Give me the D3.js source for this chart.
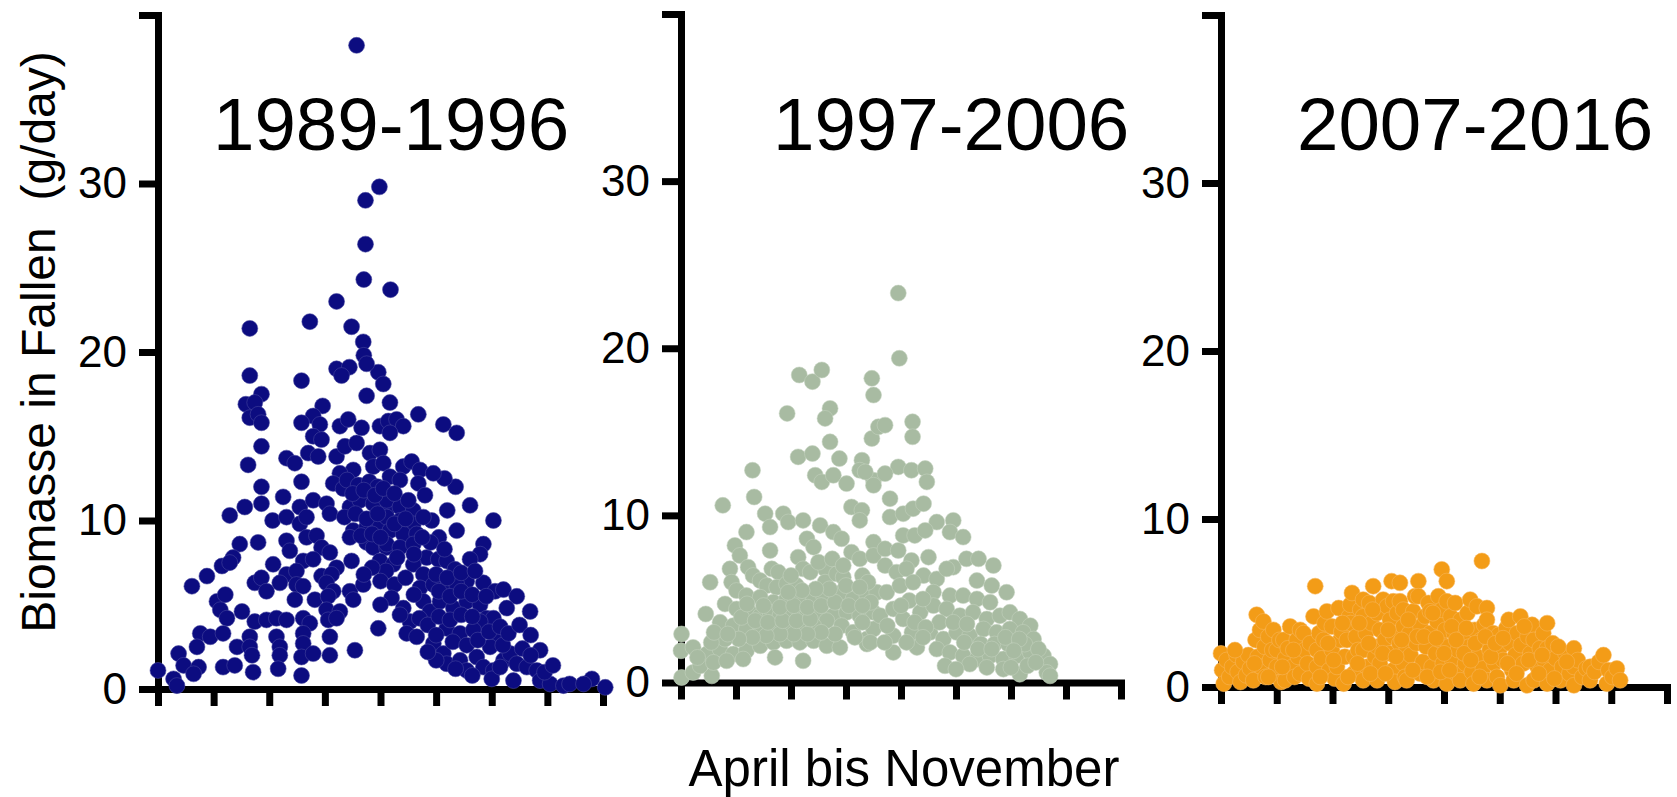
<!DOCTYPE html>
<html><head><meta charset="utf-8">
<script src="https://cdn.jsdelivr.net/npm/d3@7"></script>
<style>
html,body{margin:0;padding:0;background:#fff;}
svg{display:block;font-family:"Liberation Sans",Arial,Helvetica,sans-serif;}
</style></head><body>
<svg id="chart" width="1677" height="797"></svg>
<script>
const periods = ["1989-1996","1997-2006","2007-2016"];
const colors = ["#0c0c80","#a8bba2","#f39c17"];
const strokes = ["#4a4aa0","#c4d2bf","#f7b85e"];
const yTicks = [0,10,20,30,40];
const yTickLabels = ["0","10","20","30",""];
const xTicks = [0,1,2,3,4,5,6,7,8];
const yLabel = "Biomasse in Fallen  (g/day)";
const xLabel = "April bis November";

// [month since 1 April, g/day]
const data1989 = [
[3.57,38.2],[3.98,29.8],[3.73,29.0],[3.73,26.4],[3.70,24.3],[4.18,23.7],[3.21,23.0],[2.73,21.8],[1.65,21.4],[3.48,21.5],[3.69,20.6],[3.70,19.8],[3.21,19.0],[3.44,19.1],[3.96,18.8],[1.65,18.6],[2.58,18.3],
[1.86,17.5],[1.58,16.9],[1.74,17.0],[1.65,16.1],[1.80,16.3],[1.86,15.8],[3.30,18.6],[3.75,19.3],[4.05,18.1],[3.75,17.4],[2.96,16.8],[2.79,16.2],[2.91,15.7],[2.58,15.8],[3.27,15.6],[3.42,16.0],[3.66,15.5],[3.99,15.6],[4.14,15.9],[2.79,15.0],[2.94,14.8],[1.86,14.4],[1.62,13.3],[2.31,13.7],[2.46,13.4],[2.70,14.0],[2.88,13.8],[3.21,13.8],[3.36,14.4],[3.57,14.6],[3.81,14.0],[3.99,14.2],[3.51,13.0],[3.27,12.8],[3.87,13.2],[4.05,13.4],[2.58,12.3],[1.86,12.0],[3.15,12.2],[3.33,11.9],[2.25,11.4],[1.86,11.0],[1.56,10.8],[1.29,10.3],[2.55,10.8],[2.79,11.2],[3.03,11.0],[3.09,10.4],[3.45,10.8],[3.63,11.2],[3.87,11.0],[4.11,10.6],[2.06,10.0],[2.31,10.2],[2.55,9.8],[2.67,10.2],[3.51,9.4],[3.75,9.6],[3.99,9.8],[2.31,8.8],[2.67,9.0],[2.85,9.1],[1.47,8.6],[1.80,8.7],[3.75,8.7],[3.87,8.4],[4.11,8.4],[2.37,8.2],[2.94,8.4],[3.09,8.1],[1.35,7.8],[1.15,7.3],[1.29,7.5],[2.07,7.4],[2.61,7.6],[2.79,7.7],[3.48,7.6],[3.21,7.2],[3.99,7.6],[0.88,6.7],[0.61,6.1],[2.31,6.8],[2.49,7.0],[2.94,6.7],[3.12,6.8],[1.74,6.3],[1.86,6.6],[2.19,6.3],[2.49,6.2],[2.61,6.1],[3.03,6.3],[3.15,5.8],[3.45,5.8],[3.69,6.2],[1.95,5.8],[1.06,5.2],[1.21,5.6],[2.46,5.3],[2.82,5.3],[3.06,5.5],[3.51,5.3],[1.12,4.7],[1.24,4.2],[1.51,4.6],[3.03,4.7],[3.27,4.6],[1.74,4.0],[1.95,4.1],[2.13,4.2],[2.31,4.1],[2.61,4.2],[2.73,3.9],[3.06,4.1],[3.21,4.2],[3.96,3.6],[0.76,3.3],[0.94,3.1],[1.17,3.3],[1.42,2.5],[1.65,3.1],[1.65,2.5],[2.13,3.1],[2.19,2.5],[2.61,3.3],[2.61,2.7],[3.09,3.1],[3.54,2.3],[0.70,2.5],[0.37,2.1],[0.46,1.4],[0.73,1.3],[0.64,0.9],[1.17,1.3],[1.38,1.4],[1.69,2.0],[1.71,1.0],[2.19,2.0],[2.16,1.2],[2.58,1.9],[2.79,2.1],[2.58,0.8],[3.09,2.0],[0.00,1.1],[0.28,0.6],[0.34,0.2],
[4.17,17.0],[4.68,16.3],[4.29,16.0],[4.41,15.6],[4.17,15.2],[5.13,15.7],[5.37,15.2],[4.41,13.2],[4.56,13.5],[4.71,13.0],[4.17,12.6],[4.35,12.4],[4.68,12.2],[4.80,11.5],[5.61,10.9],[6.03,10.0],[5.37,9.4],[4.92,10.0],[4.11,11.2],[4.35,10.8],[4.59,10.6],[4.11,10.2],[4.35,10.0],[4.59,9.8],[4.77,10.2],[4.17,9.4],[4.41,9.2],[4.65,9.2],[4.11,8.6],[4.35,8.4],[4.59,8.6],[5.85,8.6],[5.79,8.0],[5.61,7.7],[4.83,7.8],[5.04,7.7],[5.19,7.6],[5.34,7.1],[4.23,7.4],[4.59,7.4],[4.77,6.8],[5.55,6.4],[5.85,6.3],[6.06,5.8],[6.21,5.9],[6.45,5.5],[4.71,6.0],[4.95,6.2],[5.19,6.0],[5.37,6.2],[6.27,4.8],[6.69,4.6],[4.41,4.8],[4.53,4.0],[4.77,5.2],[4.89,4.6],[5.07,5.2],[5.31,4.8],[5.55,5.2],[5.79,5.0],[5.91,4.2],[6.03,4.2],[5.79,4.0],[4.47,3.3],[4.65,3.1],[4.95,2.7],[5.19,3.6],[5.43,3.3],[5.67,3.5],[6.09,3.1],[5.97,2.5],[6.87,2.3],[5.13,2.1],[5.19,1.5],[5.43,1.7],[5.55,1.1],[5.73,1.9],[5.85,1.3],[6.03,1.1],[6.21,1.7],[6.33,2.1],[6.45,1.5],[6.39,0.5],[6.63,1.3],[6.81,1.1],[6.87,0.5],[7.05,0.3],[7.29,0.2],[7.80,0.6],[8.04,0.1],
[3.40,12.4],[3.60,12.1],[3.80,12.3],[3.95,12.0],[3.50,11.6],[3.70,11.8],[3.90,11.5],[4.05,11.9],[3.35,10.2],[3.55,10.4],[3.75,10.1],[3.95,10.4],[3.45,9.0],[3.65,9.1],[3.85,9.2],[4.00,9.0],[4.25,9.8],[4.45,10.1],[4.25,11.6],[4.50,11.2],[4.60,8.0],[4.30,7.8],[4.10,7.0],[3.85,7.2],[3.70,6.8],[4.00,6.4],[4.25,6.2],[4.45,6.6],[4.60,5.6],[4.20,5.4],[4.00,5.0],[4.35,4.4],[4.70,4.2],[4.85,3.8],[5.05,4.3],[5.25,4.1],[5.45,4.4],[5.65,4.3],[5.00,3.2],[5.30,2.8],[5.55,2.6],[5.75,2.9],[5.95,3.4],[6.20,2.6],[6.15,3.7],[5.05,5.8],[5.25,5.5],[5.45,5.8],[5.65,5.6],[5.90,5.5],[5.00,6.8],[5.20,6.6],[5.45,6.9],[5.70,7.0],[5.05,9.0],[4.90,8.7],[5.15,8.3],[4.75,9.0],[5.20,10.6],[5.35,12.0],[5.15,12.5],[4.95,12.8],[5.00,1.7],[4.85,2.2],[5.35,1.2],[5.65,0.8],[6.00,0.6],[6.15,1.3],[6.55,2.4],[6.30,3.3],[6.50,3.8],[6.70,3.2],[6.70,2.0],[6.95,1.0],[7.10,1.4],[7.40,0.3],[7.65,0.3]
];

const data1997 = [
[2.15,18.4],[2.39,18.0],[2.56,18.7],[3.47,18.2],[3.50,17.2],[1.93,16.1],[2.71,16.4],[2.62,15.8],[2.71,14.4],[3.47,14.6],[3.59,15.3],[2.13,13.5],[2.39,13.7],[2.88,13.4],[3.29,13.3],[3.25,12.7],[2.44,12.4],[2.56,12.0],[2.77,12.4],[3.01,11.9],[3.50,12.1],[3.35,12.6],[1.30,12.7],[1.33,11.1],[0.76,10.6],[3.10,10.5],[3.29,10.3],[3.25,9.7],[1.53,10.1],[1.62,9.3],[1.86,10.1],[1.95,9.6],[2.22,9.7],[2.53,9.4],[2.77,9.0],[2.92,8.6],[1.19,9.0],[2.29,8.6],[2.41,8.1],[0.98,8.2],[1.07,7.6],[1.62,7.9],[3.10,7.8],[3.25,7.4],[3.50,8.4],[3.50,7.6],[2.13,7.5],[2.22,6.8],[0.89,6.8],[0.92,6.0],[1.22,6.9],[1.31,6.4],[1.65,6.8],[1.77,6.6],[0.53,6.0],[2.62,6.8],[2.62,6.0],[2.83,6.5],[2.95,6.3],[1.44,6.1],[1.56,5.8],[1.74,5.7],[1.92,5.9],[2.10,5.8],[1.01,5.5],[1.19,5.2],[2.92,5.4],[3.13,5.0],[3.38,5.2],[3.56,5.4],[1.44,5.1],[1.68,4.8],[1.92,5.0],[2.16,5.2],[2.41,5.0],[2.59,5.2],[0.80,4.7],[0.45,4.1],[1.01,4.4],[1.25,4.2],[1.44,4.0],[1.62,4.2],[1.80,4.0],[2.04,4.2],[2.29,4.0],[2.53,4.2],[2.77,4.0],[3.01,4.2],[3.25,4.0],[3.50,4.2],[2.65,3.7],[2.92,3.4],[3.13,3.0],[3.38,2.6],[3.50,3.2],[0.71,3.6],[0.95,3.4],[1.19,3.2],[1.44,3.4],[1.68,3.2],[1.92,3.4],[2.16,3.2],[2.41,3.4],[0.01,2.9],[0.00,1.9],[0.22,2.1],[0.47,1.7],[0.71,2.0],[0.95,1.7],[1.19,1.9],[1.44,2.2],[1.68,2.4],[1.92,2.5],[2.16,2.4],[2.41,2.5],[2.65,2.2],[2.89,2.1],[3.38,2.3],[3.16,2.7],[1.71,1.5],[2.22,1.3],[0.01,0.3],[0.22,0.6],[0.56,0.4],[0.35,1.0],[0.59,1.2],[0.83,1.3],[1.13,1.4],
[3.97,19.4],[3.95,23.3],[3.71,15.4],[4.21,15.6],[4.21,14.7],[3.95,12.9],[4.19,12.7],[4.44,12.8],[4.47,12.0],[3.71,12.5],[3.50,11.8],[3.80,11.0],[3.80,9.9],[4.04,10.1],[4.22,10.4],[4.41,10.7],[4.65,9.6],[4.95,9.7],[4.89,9.0],[5.13,8.7],[3.71,8.0],[3.95,7.9],[4.04,8.8],[4.25,8.8],[4.44,9.1],[4.50,7.5],[4.19,7.3],[4.95,6.9],[5.19,7.4],[5.41,7.4],[5.68,7.0],[3.71,7.0],[3.92,6.6],[4.10,6.8],[4.41,6.4],[4.65,6.2],[4.83,6.8],[5.38,6.1],[5.65,5.8],[5.92,5.4],[3.74,5.4],[3.98,5.8],[4.22,6.0],[4.59,5.4],[4.89,5.2],[5.13,5.2],[5.38,5.0],[5.62,4.8],[3.62,4.0],[3.86,4.4],[4.04,3.8],[4.35,4.2],[4.59,4.6],[4.83,4.4],[5.07,4.0],[5.31,4.2],[5.56,3.8],[5.80,4.0],[5.98,4.2],[6.16,3.8],[6.35,3.4],[3.44,2.4],[3.86,2.8],[3.86,1.8],[4.29,2.1],[4.53,3.0],[4.77,2.6],[5.01,3.0],[5.25,2.8],[5.50,3.2],[5.74,3.0],[5.98,3.2],[6.22,3.0],[6.41,2.6],[4.65,2.0],[4.89,1.8],[5.13,1.6],[5.38,1.4],[5.62,1.6],[5.86,1.4],[6.10,1.6],[6.35,1.8],[6.59,1.6],[6.71,1.1],[6.16,0.5],[6.65,0.6],[6.71,0.4],[5.25,1.1],[5.56,0.9],[5.86,0.8],
[2.00,6.4],[2.35,6.6],[2.50,7.2],[2.75,7.4],[2.95,7.0],[3.30,6.4],[3.40,6.0],[3.45,4.8],[3.30,3.6],[2.80,2.9],[2.55,3.0],[2.30,2.9],[2.05,2.9],[1.80,2.9],[1.55,2.8],[1.30,2.7],[1.05,2.6],[0.80,2.6],[0.55,2.4],[0.30,1.5],[3.70,2.4],[4.20,3.0],[4.80,1.0],[5.00,0.8],[4.15,4.9],[4.40,5.0],[4.70,3.6],[4.95,3.6],[5.20,3.5],[5.45,2.3],[5.70,2.3],[5.95,2.3],[6.25,2.3],[6.50,2.0],[6.00,0.9],[6.30,1.0],
[1.10,3.9],[1.35,3.7],[1.58,3.6],[1.85,3.7],[2.10,3.7],[2.35,3.8],[0.60,3.0],[0.85,2.9],[1.20,4.7],[1.50,4.6],[1.80,4.5],[2.05,4.6],[2.30,4.5],[2.55,4.6],[2.80,4.8],[3.05,4.6],[3.30,4.6],[2.70,5.6],[2.45,5.6],[2.20,5.5],[1.95,5.4],[3.00,5.8],[3.25,5.7],[3.75,3.4],[4.00,4.6],[4.25,3.6],[4.45,3.3],[4.10,2.4],[4.40,2.7],[5.15,2.4],[5.40,2.0],[5.65,2.0],[5.90,2.7],[6.15,2.6],[6.05,1.9],[6.45,1.2]
];

const data2007 = [
[0.00,2.0],[0.02,1.0],[0.05,0.2],[0.10,1.6],[0.15,0.6],[0.20,1.2],[0.28,1.9],[0.30,0.9],[0.35,0.3],[0.40,1.5],[0.45,0.7],[0.49,1.9],[0.52,1.1],
[0.58,0.4],[0.62,2.8],[0.64,4.3],[0.66,1.8],[0.70,3.4],[0.72,1.2],[0.76,3.9],[0.78,2.4],[0.80,0.6],[0.85,3.0],[0.88,1.6],[0.92,2.2],[0.94,3.4],[0.96,0.8],[1.00,2.2],[1.00,1.2],
[1.05,2.8],[1.08,0.3],[1.12,2.8],[1.15,0.4],[1.15,1.7],[1.20,2.3],[1.24,3.6],[1.28,1.2],[1.32,0.6],[1.36,2.8],[1.38,1.8],[1.42,0.8],[1.42,3.4],[1.48,3.2],[1.50,2.2],[1.55,1.4],[1.58,0.5],[1.60,2.6],
[1.66,4.2],[1.69,6.0],[1.72,2.2],[1.72,1.2],[1.72,0.2],[1.76,3.2],[1.80,1.7],[1.84,2.8],[1.86,3.8],[1.90,4.5],[1.94,1.0],[1.99,3.6],[1.99,2.2],[2.04,0.5],[2.08,1.2],[2.11,4.7],[2.14,2.8],[2.16,3.3],[2.20,0.2],[2.22,1.8],[2.26,2.8],[2.30,4.2],[2.32,4.9],[2.32,3.8],[2.35,5.6],[2.38,1.8],[2.38,0.8],[2.42,3.0],
[2.46,2.2],[2.50,4.6],[2.55,5.2],[2.55,4.2],[2.55,2.2],[2.55,0.4],[2.60,3.2],[2.62,1.2],[2.66,5.0],[2.70,3.8],[2.73,6.0],[2.76,1.8],[2.80,4.4],[2.80,2.4],[2.80,0.4],[2.85,3.4],[2.85,1.4],[2.91,5.2],[2.94,2.8],[2.98,4.8],[3.03,4.0],[3.03,2.0],[3.06,6.3],[3.09,5.1],[3.09,3.0],[3.09,1.0],[3.12,0.3],[3.16,4.4],[3.20,2.6],[3.21,6.2],[3.21,5.1],[3.27,4.6],[3.27,3.6],[3.27,1.4],[3.30,0.6],[3.33,2.4],[3.33,0.4],
[3.38,3.2],[3.40,1.9],[3.45,4.5],[3.48,5.4],[3.50,2.6],[3.54,6.3],[3.54,5.4],[3.57,0.8],[3.58,3.6],[3.62,1.5],[3.66,4.2],[3.68,2.4],[3.72,5.0],[3.75,4.5],[3.75,3.2],[3.78,1.2],[3.81,0.4],[3.85,2.0],[3.88,3.9],[3.90,5.4],[3.92,2.8],[3.96,7.0],[3.96,4.6],[3.98,1.4],[4.02,3.4],[4.05,6.3],[4.05,5.1],[4.05,0.2],[4.08,2.4],[4.12,4.2],[4.15,1.6],[4.18,3.2],[4.20,5.0],[4.22,0.8],[4.25,2.2],
[4.29,0.4],[4.30,4.0],[4.34,3.0],[4.38,1.4],[4.42,4.4],[4.45,2.4],[4.47,5.2],[4.50,0.9],[4.53,0.2],[4.55,3.4],[4.59,4.8],[4.60,1.8],[4.66,2.8],[4.68,7.5],[4.70,1.1],[4.72,3.7],[4.77,4.7],[4.77,4.0],[4.77,0.4],[4.82,2.2],[4.88,3.2],[4.90,1.4],[4.95,0.6],[4.98,3.1],[5.00,2.3],[5.01,0.1],[5.06,1.6],
[5.12,3.5],[5.16,4.0],[5.18,2.6],[5.22,1.0],[5.25,0.4],[5.28,1.9],[5.31,3.2],[5.37,4.2],[5.38,2.5],[5.42,1.4],[5.49,0.1],[5.50,3.0],[5.55,2.0],[5.58,3.7],[5.61,2.8],[5.61,0.4],[5.66,1.3],[5.72,2.3],[5.78,3.2],[5.80,1.6],[5.85,3.8],[5.85,2.3],[5.85,0.2],[5.90,1.0],[5.95,2.6],[6.00,1.7],
[6.09,0.4],[6.12,1.2],[6.18,2.0],[6.25,0.8],[6.33,2.3],[6.33,1.2],[6.33,0.1],[6.40,1.6],[6.48,0.6],[6.55,1.1],[6.62,1.2],[6.62,0.4],[6.70,0.9],[6.78,1.5],[6.86,1.9],[6.92,0.2],[6.95,1.0],[7.02,0.6],[7.10,1.1],[7.16,0.4],
[1.78,0.6],[1.92,2.6],[2.02,1.6],[2.18,3.8],[2.28,0.6],[2.45,1.4],[2.48,3.8],[2.65,2.6],[2.68,0.8],[2.72,4.6],[2.90,2.0],[2.95,0.8],[3.00,3.4],[3.14,1.8],[3.24,2.8],[3.36,4.0],[3.44,1.0],[3.52,3.0],[3.64,3.0],[3.70,0.6],[3.80,4.4],[3.86,2.9],[3.94,0.9],[4.00,2.0],[4.10,1.0],[4.14,3.6],[4.22,2.8],[4.36,2.0],[4.40,3.5],[4.48,1.6],[4.56,2.6],[4.64,0.6],[4.74,3.0],[4.84,1.8],[4.92,2.6],[5.06,2.9],[5.14,1.4],[5.30,0.8],[5.44,3.6],[5.52,1.6],[5.70,0.8],[5.76,1.9],[5.98,0.5],[6.05,2.4],[6.20,1.5],[1.30,2.2],[1.10,1.2],[0.85,0.6],[0.60,1.4],[0.25,2.2]
];

const series = [data1989, data1997, data2007];

// layout (pixel positions of each panel)
const layout = [
  {x0:158,  x1:603,  y0:689,   y1:15, titleX:213},
  {x0:681,  x1:1121, y0:682.5, y1:14, titleX:773},
  {x0:1221, x1:1667, y0:687,   y1:15, titleX:1297}
];

const svg = d3.select("#chart");

layout.forEach((L, i) => {
  const x = d3.scaleLinear().domain([0, 8]).range([L.x0, L.x1]);
  const y = d3.scaleLinear().domain([0, 40]).range([L.y0, L.y1]);
  const g = svg.append("g");

  const yAxis = d3.axisLeft(y).tickValues(yTicks).tickSize(19).tickSizeOuter(0)
      .tickPadding(12).tickFormat((d, k) => yTickLabels[k]);
  const ya = g.append("g").attr("transform", `translate(${L.x0},0)`).call(yAxis);

  const xAxis = d3.axisBottom(x).tickValues(xTicks).tickSize(17).tickSizeOuter(0).tickFormat("");
  const xa = g.append("g").attr("transform", `translate(0,${L.y0})`).call(xAxis);

  [ya, xa].forEach(a => {
    a.select(".domain").attr("stroke", "#000").attr("stroke-width", 7).attr("stroke-linecap", "square");
    a.selectAll(".tick line").attr("stroke", "#000").attr("stroke-width", 7);
    a.selectAll("text").attr("font-size", 44).attr("fill", "#000")
      .attr("font-family", '"Liberation Sans", Arial, sans-serif');
  });

  g.append("g").selectAll("circle").data(series[i]).join("circle")
    .attr("cx", d => x(d[0])).attr("cy", d => y(d[1])).attr("r", 8)
    .attr("fill", colors[i]).attr("stroke", strokes[i]).attr("stroke-opacity", 0.7)
    .attr("stroke-width", 0.8);

  g.append("text").attr("x", L.titleX).attr("y", 150)
    .attr("font-size", 74.5).attr("fill", "#000").text(periods[i]);
});

svg.append("text")
  .attr("transform", "translate(55,342) rotate(-90)")
  .attr("text-anchor", "middle").attr("font-size", 48).attr("fill", "#000")
  .attr("xml:space", "preserve").style("white-space", "pre")
  .text(yLabel);

svg.append("text").attr("x", 904).attr("y", 786)
  .attr("text-anchor", "middle").attr("font-size", 51).attr("fill", "#000")
  .text(xLabel);
</script>
</body></html>
